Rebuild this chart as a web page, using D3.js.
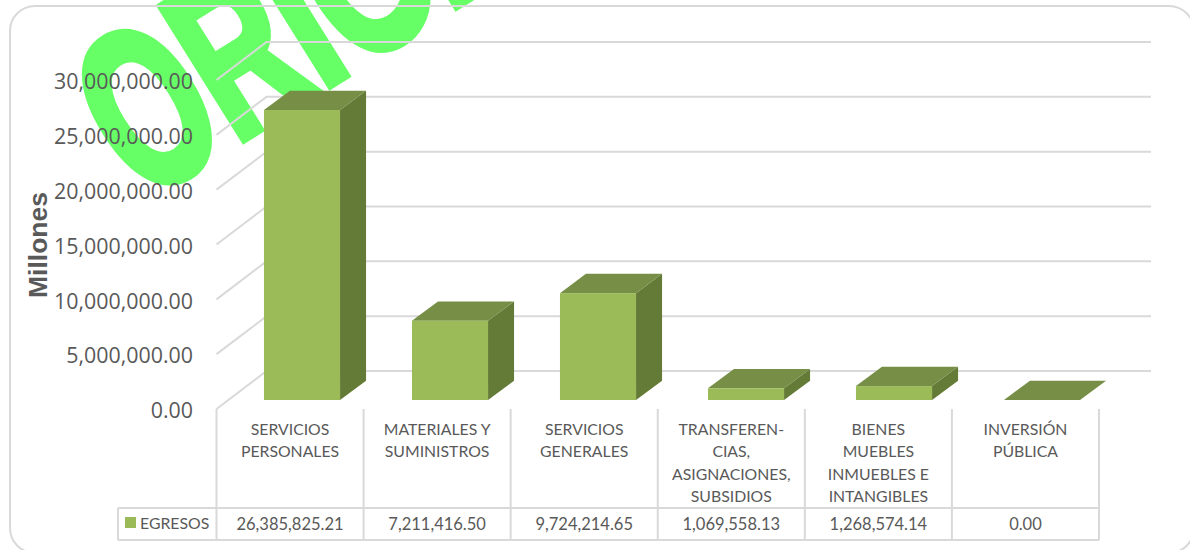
<!DOCTYPE html>
<html>
<head>
<meta charset="utf-8">
<script src="https://cdn.jsdelivr.net/npm/d3@7"></script>
<style>
    html, body { margin: 0; padding: 0; background: #fff; overflow: hidden; }
    text { font-family: "Open Sans", sans-serif; fill: #595959; }
    .table-text { font-family: Lato, sans-serif; font-size: 15.8px; }
    .cell-value { font-size: 16.5px; }
</style>
</head>
<body>
<div id="chart"></div>
<script>
// Chart data
const categories = ["SERVICIOS PERSONALES", "MATERIALES Y SUMINISTROS", "SERVICIOS GENERALES", "TRANSFEREN-CIAS, ASIGNACIONES, SUBSIDIOS", "BIENES MUEBLES INMUEBLES E INTANGIBLES", "INVERSIÓN PÚBLICA"];
const categoryLines = [
    ["SERVICIOS", "PERSONALES"],
    ["MATERIALES Y", "SUMINISTROS"],
    ["SERVICIOS", "GENERALES"],
    ["TRANSFEREN-", "CIAS,", "ASIGNACIONES,", "SUBSIDIOS"],
    ["BIENES", "MUEBLES", "INMUEBLES E", "INTANGIBLES"],
    ["INVERSIÓN", "PÚBLICA"]
];
const egresos = [26385825.21, 7211416.50, 9724214.65, 1069558.13, 1268574.14, 0.00];
const yTicks = [0, 5000000, 10000000, 15000000, 20000000, 25000000, 30000000];
const seriesName = "EGRESOS";

const width = 1190;
const height = 550;
const gridColor = "#d9d9d9";

const svg = d3.select("#chart")
    .append("svg")
    .attr("width", width)
    .attr("height", height)
    .style("display", "block");

// Watermark, sits under everything else
svg.append("text")
    .attr("transform", "translate(142,202) rotate(-32) scale(1,1.6)")
    .style("font-family", "'Liberation Sans', sans-serif")
    .style("font-weight", "bold")
    .style("font-size", "141px")
    .style("fill", "#66ff66")
    .style("stroke", "#66ff66")
    .style("stroke-width", 6)
    .style("stroke-linejoin", "miter")
    .text("ORIGINAL");

// Chart frame, runs slightly past the page on the right and bottom
svg.append("rect")
    .attr("x", 10)
    .attr("y", 6)
    .attr("width", 1184)
    .attr("height", 547)
    .attr("rx", 25)
    .attr("fill", "none")
    .attr("stroke", gridColor)
    .attr("stroke-width", 2);

// Scales
const xTable = d3.scaleBand().domain(categories).range([216.5, 1099]);
const xBar = d3.scaleBand().domain(categories).range([228, 1116]).paddingInner(0.486).paddingOuter(0.243);
const yFront = d3.scaleLinear().domain([0, 30000000]).range([409, 80]);
const yBar = d3.scaleLinear().domain([0, 30000000]).range([400, 70.3]);

// 3D offsets
const wallDx = 50, wallDy = -38;
const barDx = 26, barDy = -19.3;
const wallRight = 1151;

// Gridlines: diagonal on the side wall, then flat on the back wall
const gridFn = d3.line();
svg.selectAll(".grid")
    .data(yTicks)
    .enter()
    .append("path")
    .attr("class", "grid")
    .attr("fill", "none")
    .attr("stroke", gridColor)
    .attr("stroke-width", 2)
    .attr("d", d => gridFn([
        [xTable.range()[0], yFront(d)],
        [xTable.range()[0] + wallDx, yFront(d) + wallDy],
        [wallRight, yFront(d) + wallDy]
    ]));

// Bars
const bars = svg.selectAll(".bar")
    .data(egresos)
    .enter()
    .append("g")
    .attr("class", "bar");

// Side face
bars.append("path")
    .attr("fill", "#647a37")
    .attr("d", (d, i) => {
        const x1 = xBar(categories[i]) + xBar.bandwidth();
        return gridFn([[x1, yBar(0)], [x1 + barDx, yBar(0) + barDy], [x1 + barDx, yBar(d) + barDy], [x1, yBar(d)]]) + "Z";
    });

// Top face
bars.append("path")
    .attr("fill", "#768e45")
    .attr("d", (d, i) => {
        const x0 = xBar(categories[i]);
        const x1 = x0 + xBar.bandwidth();
        return gridFn([[x0, yBar(d)], [x1, yBar(d)], [x1 + barDx, yBar(d) + barDy], [x0 + barDx, yBar(d) + barDy]]) + "Z";
    });

// Front face
bars.append("rect")
    .attr("fill", "#9bbb59")
    .attr("x", (d, i) => xBar(categories[i]))
    .attr("y", d => yBar(d))
    .attr("width", xBar.bandwidth())
    .attr("height", d => yBar(0) - yBar(d));

// Y axis tick labels
svg.selectAll(".tick-label")
    .data(yTicks)
    .enter()
    .append("text")
    .attr("class", "tick-label")
    .attr("x", 193)
    .attr("y", d => yFront(d))
    .attr("dy", "0.43em")
    .attr("text-anchor", "end")
    .attr("font-size", "21.4px")
    .text(d => d3.format(",.2f")(d));

// Y axis title
svg.append("text")
    .attr("transform", "translate(47,245) rotate(-90)")
    .attr("text-anchor", "middle")
    .style("font-family", "'Liberation Sans', sans-serif")
    .style("font-weight", "bold")
    .style("font-size", "26.5px")
    .text("Millones");

// Data table lines
const tableTop = 409, rowTop = 508, tableBottom = 540, legendLeft = 118;
const colEdges = categories.map(c => xTable(c)).concat(xTable.range()[1]);

svg.selectAll(".col-line")
    .data(colEdges)
    .enter()
    .append("line")
    .attr("class", "col-line")
    .attr("x1", d => d)
    .attr("x2", d => d)
    .attr("y1", tableTop)
    .attr("y2", tableBottom)
    .attr("stroke", gridColor)
    .attr("stroke-width", 2);

svg.selectAll(".row-line")
    .data([rowTop, tableBottom])
    .enter()
    .append("line")
    .attr("class", "row-line")
    .attr("x1", legendLeft)
    .attr("x2", xTable.range()[1])
    .attr("y1", d => d)
    .attr("y2", d => d)
    .attr("stroke", gridColor)
    .attr("stroke-width", 2);

svg.append("line")
    .attr("x1", legendLeft)
    .attr("x2", legendLeft)
    .attr("y1", rowTop)
    .attr("y2", tableBottom)
    .attr("stroke", gridColor)
    .attr("stroke-width", 2);

// Legend key
svg.append("rect")
    .attr("x", 125)
    .attr("y", 517)
    .attr("width", 11)
    .attr("height", 11)
    .attr("fill", "#9bbb59");

svg.append("text")
    .attr("class", "table-text")
    .attr("x", 140)
    .attr("y", 529)
    .text(seriesName);

// Category labels
const catLabels = svg.selectAll(".cat-label")
    .data(categoryLines)
    .enter()
    .append("text")
    .attr("class", "cat-label table-text")
    .attr("text-anchor", "middle");

catLabels.selectAll("tspan")
    .data((lines, i) => lines.map(line => ({ line, cat: categories[i] })))
    .enter()
    .append("tspan")
    .attr("x", d => xTable(d.cat) + xTable.bandwidth() / 2)
    .attr("y", (d, j) => 434.5 + j * 22.6)
    .text(d => d.line);

// Table values
svg.selectAll(".cell-value")
    .data(egresos)
    .enter()
    .append("text")
    .attr("class", "cell-value table-text")
    .attr("x", (d, i) => xTable(categories[i]) + xTable.bandwidth() / 2)
    .attr("y", 529.5)
    .attr("text-anchor", "middle")
    .text(d => d3.format(",.2f")(d));
</script>
</body>
</html>
